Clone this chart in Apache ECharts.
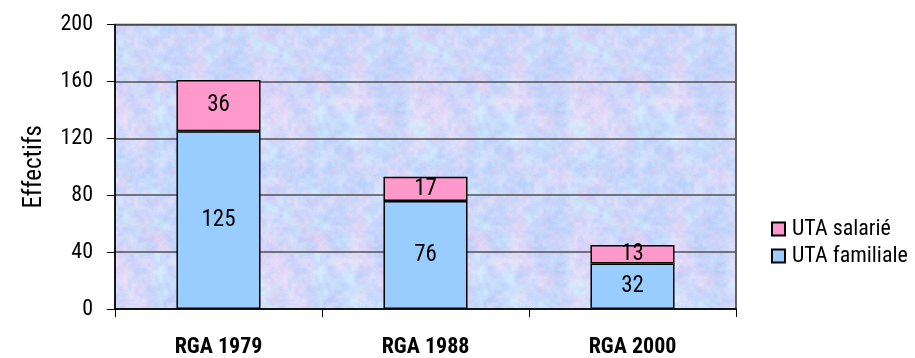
<!DOCTYPE html>
<html>
<head>
<meta charset="utf-8">
<script src="https://cdn.jsdelivr.net/npm/echarts@6/dist/echarts.min.js"></script>
<style>
  html, body { margin: 0; padding: 0; background: #fff; }
  #chart { width: 915px; height: 358px; }
</style>
</head>
<body>
<div id="chart"></div>
<script>
// Survey years and labour units (UTA) per category
var categories = ['RGA 1979', 'RGA 1988', 'RGA 2000'];
var utaFamiliale = [125, 76, 32];
var utaSalarie = [36, 17, 13];
var yTicks = { min: 0, max: 200, interval: 40 };

var FONT = '"Roboto Condensed", "Liberation Sans", Arial, sans-serif';

// Pastel mottled fill for the plot area, built from a deterministic hash noise
function makeTexture() {
  var size = 160;
  var c = document.createElement('canvas');
  c.width = size; c.height = size;
  var ctx = c.getContext('2d');
  var img = ctx.createImageData(size, size);
  function hash(x, y, s) {
    x = ((x % size) + size) % size; y = ((y % size) + size) % size;
    var v = Math.sin(x * 127.1 + y * 311.7 + s * 74.7) * 43758.5453;
    return v - Math.floor(v);
  }
  function noise(x, y, cell, s) {
    var gx = Math.floor(x / cell), gy = Math.floor(y / cell);
    var fx = x / cell - gx, fy = y / cell - gy;
    var n = size / cell;
    function h(i, j) { return hash(((gx + i) % n) * cell, ((gy + j) % n) * cell, s); }
    var ux = fx * fx * (3 - 2 * fx), uy = fy * fy * (3 - 2 * fy);
    var a = h(0, 0), b = h(1, 0), c2 = h(0, 1), d = h(1, 1);
    return a + (b - a) * ux + (c2 - a) * uy + (a - b - c2 + d) * ux * uy;
  }
  for (var y = 0; y < size; y++) {
    for (var x = 0; x < size; x++) {
      var hue = 0.5 * noise(x, y, 20, 1) + 0.35 * noise(x, y, 5, 2) + 0.15 * hash(x, y, 3);
      var cyan = 0.6 * noise(x, y, 16, 7) + 0.4 * noise(x, y, 6, 8);
      var lum = 0.45 * noise(x, y, 10, 4) + 0.35 * noise(x, y, 4, 5) + 0.2 * hash(x, y, 6);
      // blend between sky blue, pale lavender-pink and a touch of light cyan
      var t = Math.max(0, Math.min(1, (hue - 0.25) * 1.6));
      var r = 192 + (232 - 192) * t;
      var g = 214 + (216 - 214) * t;
      var b = 252 + (246 - 252) * t;
      var q = Math.max(0, (cyan - 0.55) * 2.2);
      r = r + (205 - r) * q; g = g + (236 - g) * q; b = b + (252 - b) * q;
      var k = (lum - 0.5) * 30;
      var i = (y * size + x) * 4;
      img.data[i] = Math.max(0, Math.min(255, r + k));
      img.data[i + 1] = Math.max(0, Math.min(255, g + k));
      img.data[i + 2] = Math.max(0, Math.min(255, b + k * 0.3));
      img.data[i + 3] = 255;
    }
  }
  ctx.putImageData(img, 0, 0);
  return c;
}

var chart = echarts.init(document.getElementById('chart'), null, { renderer: 'canvas' });

var valueLabel = {
  show: true,
  position: 'inside',
  color: '#000',
  fontFamily: FONT,
  fontSize: 23
};

chart.setOption({
  animation: false,
  backgroundColor: '#ffffff',
  textStyle: { fontFamily: FONT },
  grid: {
    left: 115,
    right: 179,
    top: 24.5,
    bottom: 49,
    show: true,
    backgroundColor: { image: makeTexture(), repeat: 'repeat' },
    borderColor: '#333',
    borderWidth: 1.5
  },
  legend: {
    orient: 'vertical',
    left: 766,
    top: 213,
    itemWidth: 13,
    itemHeight: 13,
    itemGap: 5,
    icon: 'rect',
    data: ['UTA salarié', 'UTA familiale'],
    textStyle: { fontFamily: FONT, fontSize: 22, color: '#000', padding: [0, 0, 0, 2] }
  },
  xAxis: {
    type: 'category',
    data: categories,
    axisLine: { lineStyle: { color: '#000', width: 1.5 } },
    axisTick: { show: true, length: 8, lineStyle: { color: '#000' } },
    axisLabel: {
      margin: 27,
      color: '#000',
      fontFamily: FONT,
      fontWeight: 'bold',
      fontSize: 22
    }
  },
  yAxis: {
    type: 'value',
    min: yTicks.min,
    max: yTicks.max,
    interval: yTicks.interval,
    name: 'Effectifs',
    nameLocation: 'middle',
    nameRotate: 90,
    nameGap: 68,
    nameTextStyle: { fontFamily: FONT, fontSize: 25, color: '#000' },
    axisLine: { show: true, lineStyle: { color: '#000', width: 1.5 } },
    axisTick: { show: true, length: 8, lineStyle: { color: '#000' } },
    axisLabel: { margin: 22, color: '#000', fontFamily: FONT, fontSize: 22 },
    splitLine: { show: true, lineStyle: { color: '#505050', width: 1.5 } }
  },
  series: [
    {
      name: 'UTA familiale',
      type: 'bar',
      stack: 'uta',
      barWidth: '40.6%',
      data: utaFamiliale,
      itemStyle: { color: '#99CCFF', borderColor: '#000', borderWidth: 1.5 },
      label: valueLabel
    },
    {
      name: 'UTA salarié',
      type: 'bar',
      stack: 'uta',
      barWidth: '40.6%',
      data: utaSalarie,
      itemStyle: { color: '#FF99CC', borderColor: '#000', borderWidth: 1.5 },
      label: valueLabel
    }
  ]
});
</script>
</body>
</html>
